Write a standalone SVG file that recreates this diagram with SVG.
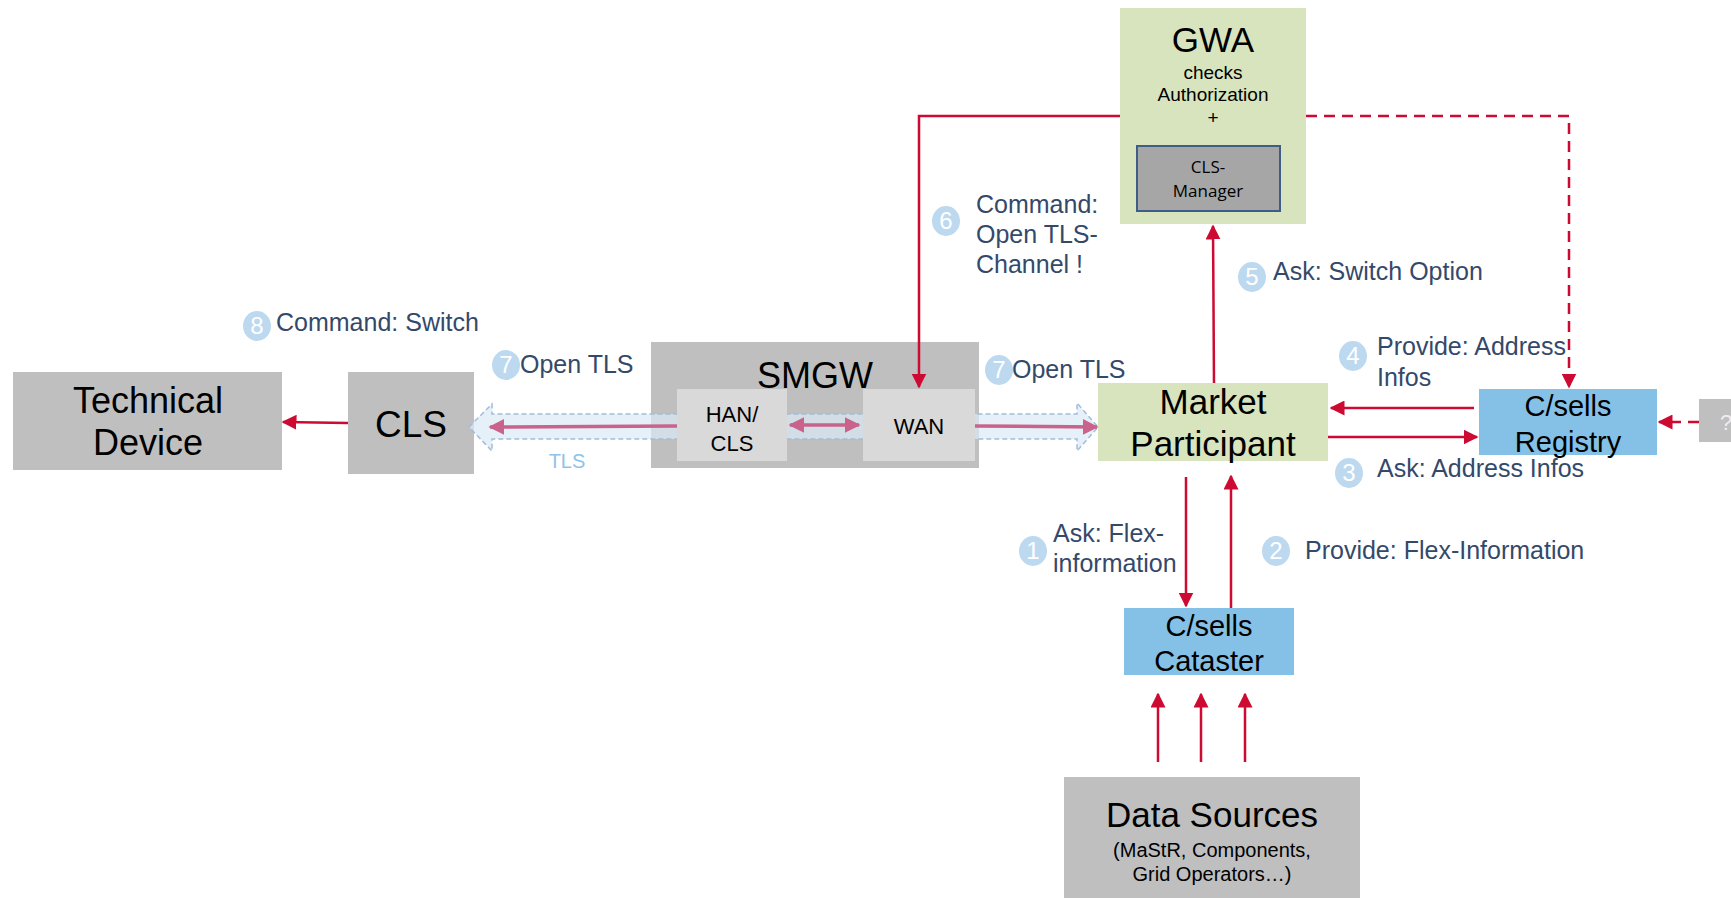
<svg xmlns="http://www.w3.org/2000/svg" width="1731" height="898" viewBox="0 0 1731 898">
<defs>
<style>
.node{font-family:"Liberation Sans",Arial,sans-serif;fill:#000;text-anchor:middle}
.lbl{font-family:"Liberation Sans",Arial,sans-serif;fill:#34496a;font-size:25px}
.num{font-family:"Liberation Sans",Arial,sans-serif;fill:#fff;font-size:24px;text-anchor:middle}
.circ{fill:#bcd9f0}
.red{stroke:#cc0a32;stroke-width:2.5;fill:none}
.gray{fill:#bfbfbf}
.lgray{fill:#d9d9d9}
.green{fill:#d7e4bd}
.blue{fill:#85c1e6}
</style>
<marker id="ah" viewBox="0 0 10 10" refX="9" refY="5" markerWidth="6" markerHeight="6" markerUnits="strokeWidth" orient="auto"><path d="M0,0 L10,5 L0,10 z" fill="#cc0a32"/></marker>
<marker id="ap" viewBox="0 0 10 10" refX="9" refY="5" markerWidth="4.5" markerHeight="4.5" markerUnits="strokeWidth" orient="auto-start-reverse"><path d="M0,0 L10,5 L0,10 z" fill="#c9638b"/></marker>
</defs>
<rect width="1731" height="898" fill="#fff"/>

<g id="gwa">
<rect x="1120" y="8" width="186" height="216" class="green"/>
<text x="1213" y="52" class="node" font-size="35">GWA</text>
<text x="1213" y="79" class="node" font-size="19">checks</text>
<text x="1213" y="101" class="node" font-size="19">Authorization</text>
<text x="1213" y="124" class="node" font-size="19">+</text>
<rect x="1137" y="146" width="143" height="65" fill="#a6a6a6" stroke="#3f5d87" stroke-width="2"/>
<text x="1208" y="173" class="node" font-size="17" style="font-family:'Open Sans',sans-serif">CLS-</text>
<text x="1208" y="197" class="node" font-size="17" style="font-family:'Open Sans',sans-serif">Manager</text>
</g>

<g id="technical-device">
<rect x="13" y="372" width="269" height="98" class="gray"/>
<text x="148" y="413" class="node" font-size="36">Technical</text>
<text x="148" y="455" class="node" font-size="36">Device</text>
</g>

<g id="cls">
<rect x="348" y="372" width="126" height="102" class="gray"/>
<text x="411" y="437" class="node" font-size="37">CLS</text>
</g>

<g id="smgw">
<rect x="651" y="342" width="328" height="126" class="gray"/>
<text x="815" y="388" class="node" font-size="36">SMGW</text>
</g>

<g id="connectors-tls">
<path d="M469,427 L492,404 L492,414 L1077,414 L1077,403 L1098,427 L1077,451 L1077,439 L492,439 L492,451 Z" fill="#dbe9f6" fill-opacity="0.7" stroke="#a3bcd9" stroke-width="1.5" stroke-dasharray="5,3"/>
</g>

<g id="han-cls">
<rect x="677" y="389" width="110" height="72" class="lgray"/>
<text x="732" y="422" class="node" font-size="22">HAN/</text>
<text x="732" y="451" class="node" font-size="22">CLS</text>
</g>

<g id="wan">
<rect x="863" y="389" width="112" height="72" class="lgray"/>
<text x="919" y="434" class="node" font-size="22">WAN</text>
</g>

<g id="market-participant">
<rect x="1098" y="383" width="230" height="78" class="green"/>
<text x="1213" y="414" class="node" font-size="35">Market</text>
<text x="1213" y="456" class="node" font-size="35">Participant</text>
</g>

<g id="registry">
<rect x="1479" y="389" width="178" height="66" class="blue"/>
<text x="1568" y="416" class="node" font-size="29">C/sells</text>
<text x="1568" y="452" class="node" font-size="29">Registry</text>
</g>

<g id="unknown">
<rect x="1699" y="399" width="40" height="43" class="gray"/>
<text x="1726" y="430" class="node" font-size="22" style="fill:#eeeeee">?</text>
</g>

<g id="cataster">
<rect x="1124" y="608" width="170" height="67" class="blue"/>
<text x="1209" y="636" class="node" font-size="29">C/sells</text>
<text x="1209" y="671" class="node" font-size="29">Cataster</text>
</g>

<g id="data-sources">
<rect x="1064" y="777" width="296" height="121" class="gray"/>
<text x="1212" y="827" class="node" font-size="35">Data Sources</text>
<text x="1212" y="857" class="node" font-size="20">(MaStR, Components,</text>
<text x="1212" y="881" class="node" font-size="20">Grid Operators…)</text>
</g>

<g id="connectors">
<line x1="677" y1="426" x2="490" y2="427" stroke="#c9638b" stroke-width="3.5" marker-end="url(#ap)"/>
<line x1="975" y1="426" x2="1097" y2="427" stroke="#c9638b" stroke-width="3.5" marker-end="url(#ap)"/>
<line x1="790" y1="425" x2="859" y2="425" stroke="#c9638b" stroke-width="3.5" marker-start="url(#ap)" marker-end="url(#ap)"/>
<line x1="348" y1="423" x2="283" y2="422" class="red" marker-end="url(#ah)"/>
<path d="M1120,116 L919,116 L919,387" class="red" marker-end="url(#ah)"/>
<path d="M1306,116 L1569,116 L1569,387" class="red" stroke-dasharray="11,7" marker-end="url(#ah)"/>
<line x1="1699" y1="422" x2="1659" y2="422" class="red" stroke-dasharray="11,7" marker-end="url(#ah)"/>
<line x1="1214" y1="383" x2="1213" y2="226" class="red" marker-end="url(#ah)"/>
<line x1="1474" y1="408" x2="1331" y2="408" class="red" marker-end="url(#ah)"/>
<line x1="1328" y1="437" x2="1477" y2="437" class="red" marker-end="url(#ah)"/>
<line x1="1186" y1="477" x2="1186" y2="606" class="red" marker-end="url(#ah)"/>
<line x1="1231" y1="608" x2="1231" y2="476" class="red" marker-end="url(#ah)"/>
<line x1="1158" y1="762" x2="1158" y2="694" class="red" marker-end="url(#ah)"/>
<line x1="1201" y1="762" x2="1201" y2="694" class="red" marker-end="url(#ah)"/>
<line x1="1245" y1="762" x2="1245" y2="694" class="red" marker-end="url(#ah)"/>
</g>

<g id="labels">
<text x="567" y="468" font-family="Liberation Sans, Arial, sans-serif" font-size="20" fill="#8fc3e8" text-anchor="middle">TLS</text>

<ellipse cx="257" cy="326" rx="14" ry="15" class="circ"/><text x="257" y="334" class="num">8</text>
<text x="276" y="331" class="lbl">Command: Switch</text>

<ellipse cx="506" cy="365" rx="14" ry="15" class="circ"/><text x="506" y="373" class="num">7</text>
<text x="520" y="373" class="lbl">Open TLS</text>

<ellipse cx="999" cy="370" rx="14" ry="15" class="circ"/><text x="999" y="378" class="num">7</text>
<text x="1012" y="378" class="lbl">Open TLS</text>

<ellipse cx="946" cy="221" rx="14" ry="15" class="circ"/><text x="946" y="229" class="num">6</text>
<text x="976" y="213" class="lbl">Command:</text>
<text x="976" y="243" class="lbl">Open TLS-</text>
<text x="976" y="273" class="lbl">Channel !</text>

<ellipse cx="1252" cy="277" rx="14" ry="15" class="circ"/><text x="1252" y="285" class="num">5</text>
<text x="1273" y="280" class="lbl">Ask: Switch Option</text>

<ellipse cx="1353" cy="356" rx="14" ry="15" class="circ"/><text x="1353" y="364" class="num">4</text>
<text x="1377" y="355" class="lbl">Provide: Address</text>
<text x="1377" y="386" class="lbl">Infos</text>

<ellipse cx="1349" cy="473" rx="14" ry="15" class="circ"/><text x="1349" y="481" class="num">3</text>
<text x="1377" y="477" class="lbl">Ask: Address Infos</text>

<ellipse cx="1033" cy="551" rx="14" ry="15" class="circ"/><text x="1033" y="559" class="num">1</text>
<text x="1053" y="542" class="lbl">Ask: Flex-</text>
<text x="1053" y="572" class="lbl">information</text>

<ellipse cx="1276" cy="551" rx="14" ry="15" class="circ"/><text x="1276" y="559" class="num">2</text>
<text x="1305" y="559" class="lbl">Provide: Flex-Information</text>
</g>
</svg>
